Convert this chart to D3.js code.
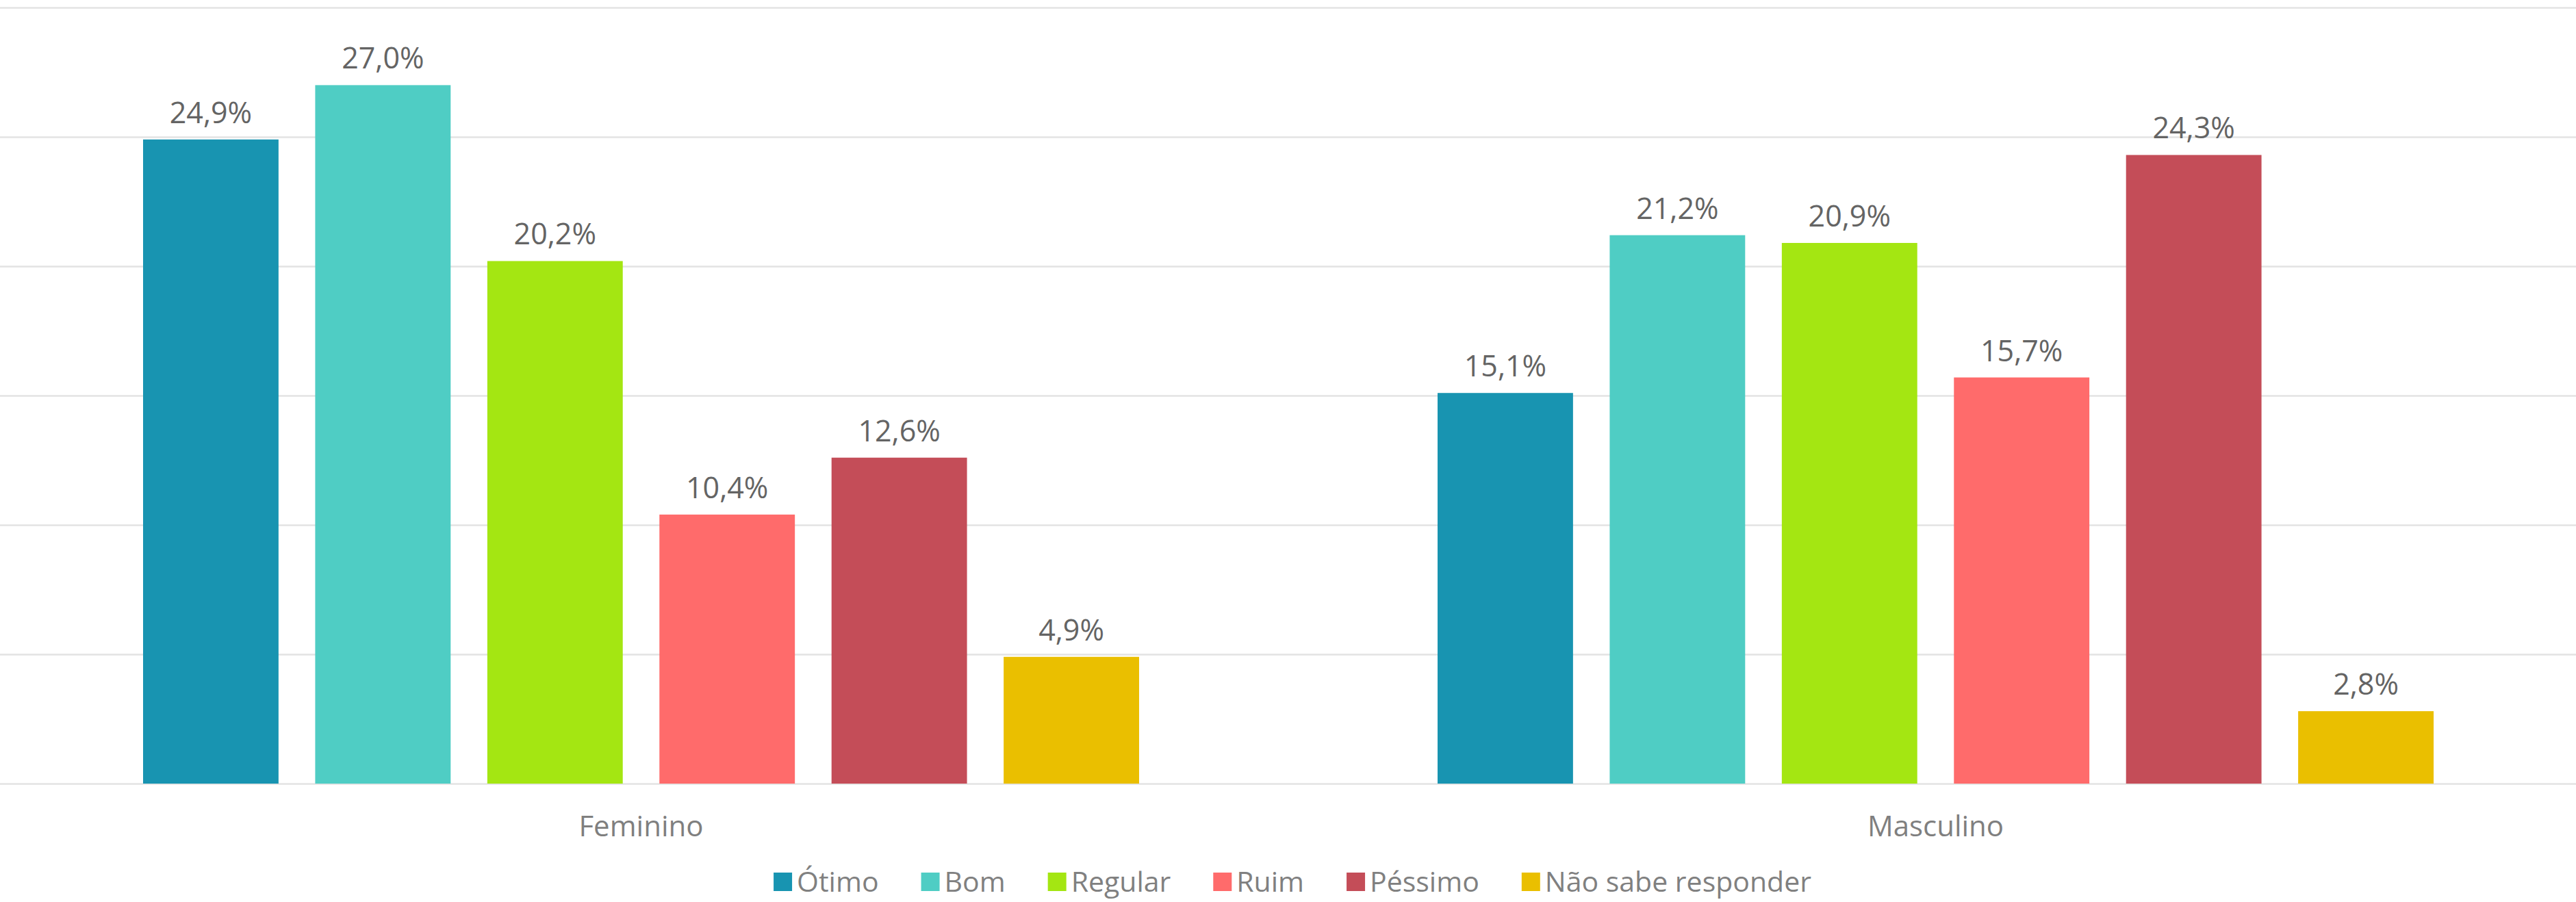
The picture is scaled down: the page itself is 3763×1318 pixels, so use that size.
<!DOCTYPE html>
<html><head><meta charset="utf-8">
<script src="https://cdn.jsdelivr.net/npm/d3@7"></script>
<style>html,body{margin:0;padding:0;background:#fff;}svg{display:block;}</style>
</head><body>
<svg id="chart" width="3763" height="1318"></svg>
<script>
const groups = ["Feminino", "Masculino"];
const series = ["Ótimo", "Bom", "Regular", "Ruim", "Péssimo", "Não sabe responder"];
const feminino = [24.9, 27.0, 20.2, 10.4, 12.6, 4.9];
const masculino = [15.1, 21.2, 20.9, 15.7, 24.3, 2.8];
const yTicks = [0, 5, 10, 15, 20, 25, 30];
const colors = ["#1894B1", "#4FCDC4", "#A4E612", "#FF6B6B", "#C44D58", "#EABF00"];

const values = { "Feminino": feminino, "Masculino": masculino };
const data = groups.map(g => ({ group: g, vals: series.map((s, i) => ({ s, v: values[g][i] })) }));

const svg = d3.select("#chart");
const W = 3763;
const font = "'Open Sans', 'Noto Sans', sans-serif";

const x0 = d3.scaleBand().domain(groups).range([-9, 3773]).padding(0);
const groupPad = 218;
const x1 = d3.scaleBand().domain(series).range([groupPad, x0.bandwidth() - groupPad]).paddingInner(0.213).paddingOuter(0);
const y = d3.scaleLinear().domain([0, 30]).range([1145, 11]);
const color = d3.scaleOrdinal().domain(series).range(colors);

// gridlines
const yAxis = d3.axisLeft(y).tickValues(yTicks).tickSize(-W).tickFormat("");
const gy = svg.append("g").call(yAxis);
gy.select(".domain").remove();
gy.selectAll(".tick line").attr("stroke", "#E3E3E3").attr("stroke-width", 2.5).attr("x1", 0).attr("x2", W);

// bars
const gGroups = svg.append("g").selectAll("g").data(data).join("g")
  .attr("transform", d => `translate(${x0(d.group)},0)`);
gGroups.selectAll("rect").data(d => d.vals).join("rect")
  .attr("x", d => x1(d.s))
  .attr("width", x1.bandwidth())
  .attr("y", d => y(d.v))
  .attr("height", d => y(0) - y(d.v))
  .attr("fill", d => color(d.s));
gGroups.selectAll("text.lbl").data(d => d.vals).join("text")
  .attr("class", "lbl")
  .attr("x", d => x1(d.s) + x1.bandwidth() / 2)
  .attr("y", d => y(d.v) - 24)
  .attr("text-anchor", "middle")
  .attr("font-family", font)
  .attr("font-size", 43)
  .attr("fill", "#646464")
  .text(d => d.v.toFixed(1).replace(".", ",") + "%");

// category axis
const xAxis = d3.axisBottom(x0).tickSize(0).tickPadding(0);
const gx = svg.append("g").attr("transform", `translate(0,${y(0)})`).call(xAxis);
gx.select(".domain").remove();
gx.selectAll(".tick text")
  .attr("font-family", font).attr("font-size", 42).attr("fill", "#7F7F7F")
  .attr("dy", 0).attr("y", 77);

// legend
const legend = svg.append("g");
const items = legend.selectAll("g").data(series).join("g");
items.append("rect").attr("width", 27).attr("height", 27).attr("y", 1275).attr("fill", d => color(d));
items.append("text").attr("x", 34).attr("y", 1303)
  .attr("font-family", font).attr("font-size", 41).attr("fill", "#808080").text(d => d);
let cx = 0;
const offs = [];
items.each(function() {
  const tw = d3.select(this).select("text").node().getComputedTextLength();
  offs.push(cx);
  cx += 34 + tw + 62;
});
const total = cx - 62;
const start = 1888 - total / 2;
items.attr("transform", (d, i) => `translate(${start + offs[i]},0)`);
</script>
</body></html>
